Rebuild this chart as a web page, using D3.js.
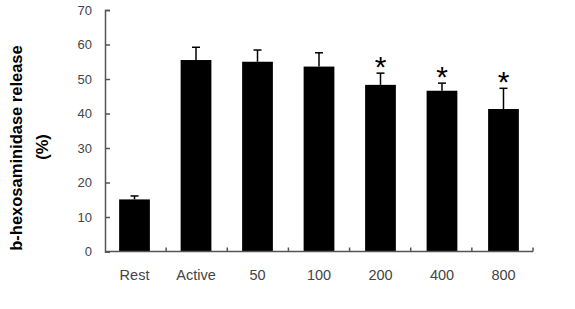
<!DOCTYPE html>
<html>
<head>
<meta charset="utf-8">
<script src="https://cdn.jsdelivr.net/npm/d3@7"></script>
<style>
  body { margin: 0; background: #fff; }
  svg { display: block; font-family: "Liberation Sans", Arial, sans-serif; }
</style>
</head>
<body>
<svg width="575" height="309"></svg>
<script>
// values
var categories = ["Rest", "Active", "50", "100", "200", "400", "800"];
var means      = [15.1, 55.5, 55.0, 53.6, 48.3, 46.6, 41.3];
var errors     = [1.0, 3.7, 3.4, 4.0, 3.4, 2.2, 6.0];
var starred    = [false, false, false, false, true, true, true];
var yTicks     = [0, 10, 20, 30, 40, 50, 60, 70];

var svg = d3.select("svg");

var x0 = 105, x1 = 533, yBottom = 251.5, yTop = 10;

var x = d3.scaleBand()
  .domain(categories)
  .range([x0, x1])
  .paddingInner(0.5)
  .paddingOuter(0.23);

var y = d3.scaleLinear()
  .domain([0, 70])
  .range([yBottom, yTop]);

var data = categories.map(function(c, i) {
  return { cat: c, mean: means[i], err: errors[i], star: starred[i] };
});

// bars
svg.append("g")
  .selectAll("rect")
  .data(data)
  .enter().append("rect")
    .attr("x", function(d) { return x(d.cat); })
    .attr("y", function(d) { return y(d.mean); })
    .attr("width", x.bandwidth())
    .attr("height", function(d) { return yBottom - y(d.mean); })
    .attr("fill", "#000");

// error bars (upper only)
var eb = svg.append("g")
  .attr("stroke", "#000")
  .attr("stroke-width", 1.5);

eb.selectAll("line.v")
  .data(data)
  .enter().append("line")
    .attr("class", "v")
    .attr("x1", function(d) { return x(d.cat) + x.bandwidth() / 2; })
    .attr("x2", function(d) { return x(d.cat) + x.bandwidth() / 2; })
    .attr("y1", function(d) { return y(d.mean); })
    .attr("y2", function(d) { return y(d.mean + d.err); });

eb.selectAll("line.cap")
  .data(data)
  .enter().append("line")
    .attr("class", "cap")
    .attr("x1", function(d) { return x(d.cat) + x.bandwidth() / 2 - 4; })
    .attr("x2", function(d) { return x(d.cat) + x.bandwidth() / 2 + 4; })
    .attr("y1", function(d) { return y(d.mean + d.err); })
    .attr("y2", function(d) { return y(d.mean + d.err); });

// significance stars
svg.append("g")
  .selectAll("text")
  .data(data.filter(function(d) { return d.star; }))
  .enter().append("text")
    .attr("x", function(d) { return x(d.cat) + x.bandwidth() / 2; })
    .attr("y", function(d) { return y(d.mean + d.err) + 4; })
    .attr("text-anchor", "middle")
    .attr("font-size", "30px")
    .attr("fill", "#000")
    .text("*");

// y axis, ticks pointing inward
var yAxis = svg.append("g")
  .attr("transform", "translate(" + x0 + ",0)")
  .call(d3.axisLeft(y).tickValues(yTicks).tickSize(-5).tickPadding(13));
yAxis.select(".domain").attr("stroke", "#555").attr("stroke-width", 1.5);
yAxis.selectAll(".tick line").attr("stroke", "#555").attr("stroke-width", 1.5);
yAxis.selectAll(".tick text").attr("font-size", "13px").attr("fill", "#444");

// x axis: line with upward ticks at category boundaries
var xa = svg.append("g").attr("stroke", "#555").attr("stroke-width", 1.5);
xa.append("line")
  .attr("x1", x0).attr("x2", x1)
  .attr("y1", yBottom).attr("y2", yBottom);
xa.selectAll("line.tk")
  .data(categories)
  .enter().append("line")
    .attr("class", "tk")
    .attr("x1", function(d, i) { return x0 + (i + 1) * (x1 - x0) / categories.length; })
    .attr("x2", function(d, i) { return x0 + (i + 1) * (x1 - x0) / categories.length; })
    .attr("y1", yBottom)
    .attr("y2", yBottom - 4);

svg.append("g")
  .selectAll("text")
  .data(categories)
  .enter().append("text")
    .attr("x", function(d) { return x(d) + x.bandwidth() / 2; })
    .attr("y", 280)
    .attr("text-anchor", "middle")
    .attr("font-size", "14.5px")
    .attr("fill", "#444")
    .text(function(d) { return d; });

// y axis title, two lines
var title = svg.append("text")
  .attr("transform", "translate(22,148) rotate(-90)")
  .attr("text-anchor", "middle")
  .attr("font-size", "16.5px")
  .attr("font-weight", "bold")
  .attr("fill", "#000");
title.append("tspan").attr("x", 0).attr("dy", 0).text("b-hexosaminidase release");
title.append("tspan").attr("x", 1).attr("dy", 26).text("(%)");
</script>
</body>
</html>
